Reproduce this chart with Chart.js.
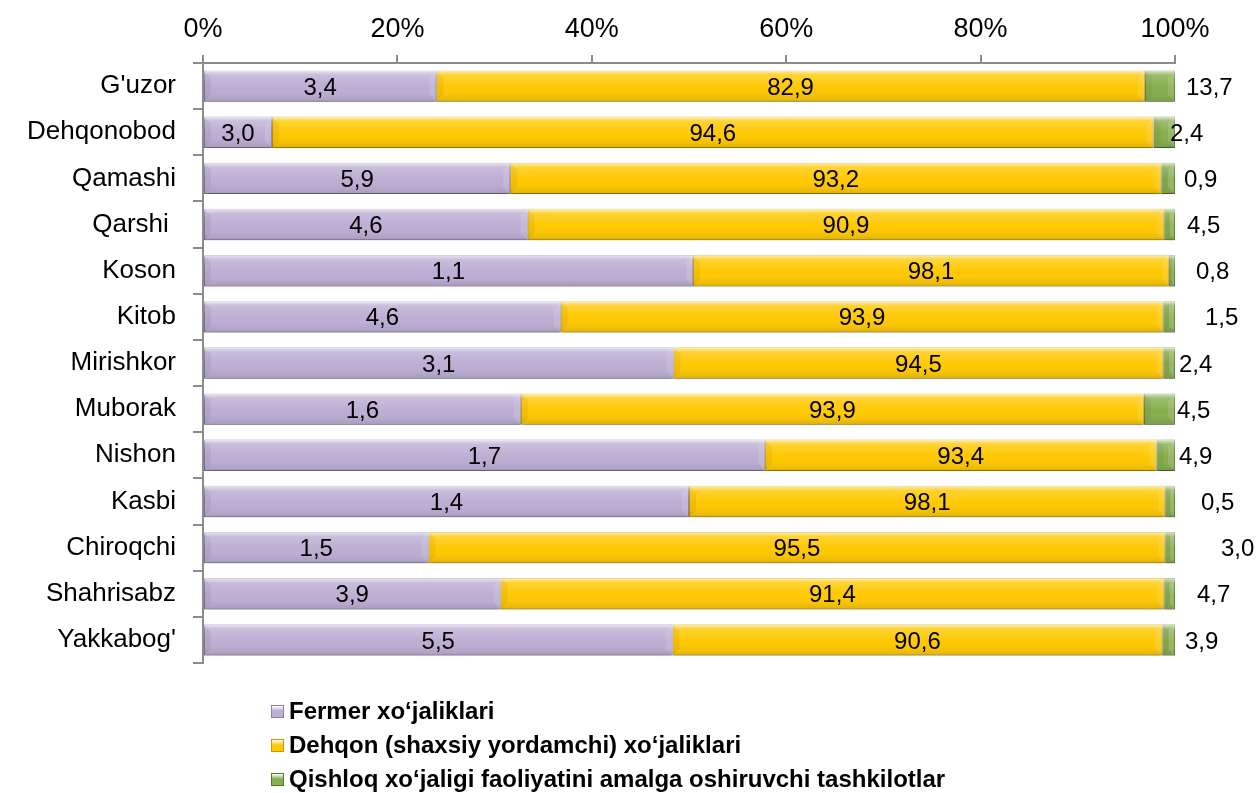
<!DOCTYPE html>
<html>
<head>
<meta charset="utf-8">
<title>Xo'jalik turlari bo'yicha ulush</title>
<script src="https://cdn.jsdelivr.net/npm/chart.js@4.4.1/dist/chart.umd.min.js"></script>
<style>
    html, body { margin: 0; padding: 0; background: #fff; }
    #wrap { position: relative; width: 1260px; height: 793px; overflow: hidden; }
    #legend {
        position: absolute; left: 271px; top: 694px;
        font: bold 24px "Liberation Sans", Arial, sans-serif; color: #000;
    }
    #legend div { height: 34px; display: flex; align-items: center; white-space: nowrap; }
    #legend .box { width: 13px; height: 13px; margin-right: 5px; box-sizing: border-box; }
</style>
</head>
<body>
<div id="wrap">
    <canvas id="share-chart"></canvas>
    <div id="legend"></div>
</div>
<script>
const districts = ["G'uzor", "Dehqonobod", "Qamashi", "Qarshi ", "Koson", "Kitob", "Mirishkor",
                   "Muborak", "Nishon", "Kasbi", "Chiroqchi", "Shahrisabz", "Yakkabog'"];

const seriesNames = ["Fermer xoʻjaliklari",
                     "Dehqon (shaxsiy yordamchi) xoʻjaliklari",
                     "Qishloq xoʻjaligi faoliyatini amalga oshiruvchi tashkilotlar"];

// bar lengths as they are drawn in the picture (share of 100%)
const fermerShare    = [24.0, 7.1, 31.6, 33.4, 50.4, 36.8, 48.4, 32.7, 57.8, 50.0, 23.2, 30.6, 48.3];
const dehqonShare    = [72.9, 90.7, 67.0, 65.5, 49.0, 62.0, 50.4, 64.1, 40.3, 49.0, 75.8, 68.3, 50.4];
const tashkilotShare = [3.1, 2.2, 1.4, 1.1, 0.6, 1.2, 1.2, 3.2, 1.9, 1.0, 1.0, 1.1, 1.3];

// numbers printed on the bars
const fermerLabels    = ["3,4", "3,0", "5,9", "4,6", "1,1", "4,6", "3,1", "1,6", "1,7", "1,4", "1,5", "3,9", "5,5"];
const dehqonLabels    = ["82,9", "94,6", "93,2", "90,9", "98,1", "93,9", "94,5", "93,9", "93,4", "98,1", "95,5", "91,4", "90,6"];
const tashkilotLabels = ["13,7", "2,4", "0,9", "4,5", "0,8", "1,5", "2,4", "4,5", "4,9", "0,5", "3,0", "4,7", "3,9"];

const xTicks = [0, 20, 40, 60, 80, 100];

// how far (px) the outside labels sit from the bar end, as in the original
const outsideGap = [11, -5, 9, 12, 21, 30, 4, 2, 4, 26, 46, 22, 10];

const fillColors   = ['#BCADD3', '#FFC800', '#86AE4C'];
const borderColors = ['#8E7DAA', '#C99A00', '#557A2C'];
const fontFamily = '"Liberation Sans", Arial, sans-serif';

Chart.defaults.font.family = fontFamily;

// bevel look: shadow under bars, light top, dark bottom, wedge at the ends
const bevelPlugin = {
    id: 'bevel',
    beforeDatasetsDraw(chart) {
        const ctx = chart.ctx;
        ctx.save();
        ctx.shadowColor = 'rgba(0,0,0,0.2)';
        ctx.shadowBlur = 3;
        ctx.shadowOffsetY = 3;
    },
    afterDatasetsDraw(chart) {
        const ctx = chart.ctx;
        ctx.restore();
        chart.data.datasets.forEach((ds, i) => {
            chart.getDatasetMeta(i).data.forEach(bar => {
                const left = Math.min(bar.base, bar.x);
                const right = Math.max(bar.base, bar.x);
                const top = bar.y - bar.height / 2;
                const h = bar.height;
                const g = ctx.createLinearGradient(0, top, 0, top + h);
                g.addColorStop(0, 'rgba(255,255,255,0.7)');
                g.addColorStop(0.15, 'rgba(255,255,255,0.2)');
                g.addColorStop(0.55, 'rgba(255,255,255,0)');
                g.addColorStop(1, 'rgba(0,0,0,0.12)');
                ctx.fillStyle = g;
                ctx.fillRect(left, top, right - left, h);

                const b = Math.min(7, (right - left) / 2);
                ctx.fillStyle = 'rgba(0,0,0,0.05)';
                ctx.beginPath();
                ctx.moveTo(left, top);
                ctx.lineTo(left + b, top + b);
                ctx.lineTo(left + b, top + h - b);
                ctx.lineTo(left, top + h);
                ctx.closePath();
                ctx.fill();
                ctx.fillStyle = 'rgba(255,255,255,0.12)';
                ctx.beginPath();
                ctx.moveTo(right, top);
                ctx.lineTo(right - b, top + b);
                ctx.lineTo(right - b, top + h - b);
                ctx.lineTo(right, top + h);
                ctx.closePath();
                ctx.fill();
            });
        });
    }
};

const valueLabelPlugin = {
    id: 'valueLabels',
    afterDatasetsDraw(chart) {
        const ctx = chart.ctx;
        const texts = [fermerLabels, dehqonLabels, tashkilotLabels];
        ctx.save();
        ctx.font = '24px ' + fontFamily;
        ctx.fillStyle = '#000';
        ctx.textBaseline = 'middle';
        chart.data.datasets.forEach((ds, i) => {
            chart.getDatasetMeta(i).data.forEach((bar, j) => {
                if (i < 2) {
                    ctx.textAlign = 'center';
                    ctx.fillText(texts[i][j], (bar.base + bar.x) / 2, bar.y + 2);
                } else {
                    ctx.textAlign = 'left';
                    ctx.fillText(texts[i][j], bar.x + outsideGap[j], bar.y + 2);
                }
            });
        });
        ctx.restore();
    }
};

function setupChart() {
    const ctx = document.getElementById('share-chart').getContext('2d');
    const shares = [fermerShare, dehqonShare, tashkilotShare];
    const config = {
        type: 'bar',
        data: {
            labels: districts,
            datasets: seriesNames.map((name, i) => ({
                label: name,
                data: shares[i],
                backgroundColor: fillColors[i],
                borderColor: borderColors[i],
                borderWidth: 1,
                borderSkipped: false,
                barPercentage: 0.68,
                categoryPercentage: 1
            }))
        },
        options: {
            indexAxis: 'y',
            responsive: true,
            maintainAspectRatio: false,
            animation: false,
            layout: { padding: { left: 0, right: 85, top: 0, bottom: 130 } },
            plugins: {
                legend: { display: false },
                tooltip: { enabled: false }
            },
            scales: {
                x: {
                    position: 'top',
                    stacked: true,
                    min: 0,
                    max: 100,
                    afterBuildTicks: (scale) => { scale.ticks = xTicks.map(v => ({ value: v })); },
                    ticks: {
                        callback: v => v + '%',
                        color: '#000',
                        font: { size: 27 },
                        padding: 9
                    },
                    grid: { drawOnChartArea: false, tickLength: 8, color: '#8c8c8c', lineWidth: 2 },
                    border: { color: '#8c8c8c', width: 2 },
                    afterFit: (scale) => { scale.height = 63; }
                },
                y: {
                    stacked: true,
                    ticks: { color: '#000', font: { size: 26 }, padding: 17 },
                    grid: { drawOnChartArea: false, tickLength: 10, color: '#8c8c8c', lineWidth: 2, offset: true },
                    border: { color: '#8c8c8c', width: 2 },
                    afterFit: (scale) => { scale.width = 203; }
                }
            }
        },
        plugins: [bevelPlugin, valueLabelPlugin]
    };
    return new Chart(ctx, config);
}

function buildLegend() {
    const legend = document.getElementById('legend');
    seriesNames.forEach((name, i) => {
        const row = document.createElement('div');
        const box = document.createElement('span');
        box.className = 'box';
        box.style.background = 'linear-gradient(#ffffff 0%, ' + fillColors[i] + ' 45%, ' + fillColors[i] + ' 100%)';
        box.style.border = '1px solid ' + borderColors[i];
        row.appendChild(box);
        row.appendChild(document.createTextNode(name));
        legend.appendChild(row);
    });
}

const shareChart = setupChart();
buildLegend();
</script>
</body>
</html>
